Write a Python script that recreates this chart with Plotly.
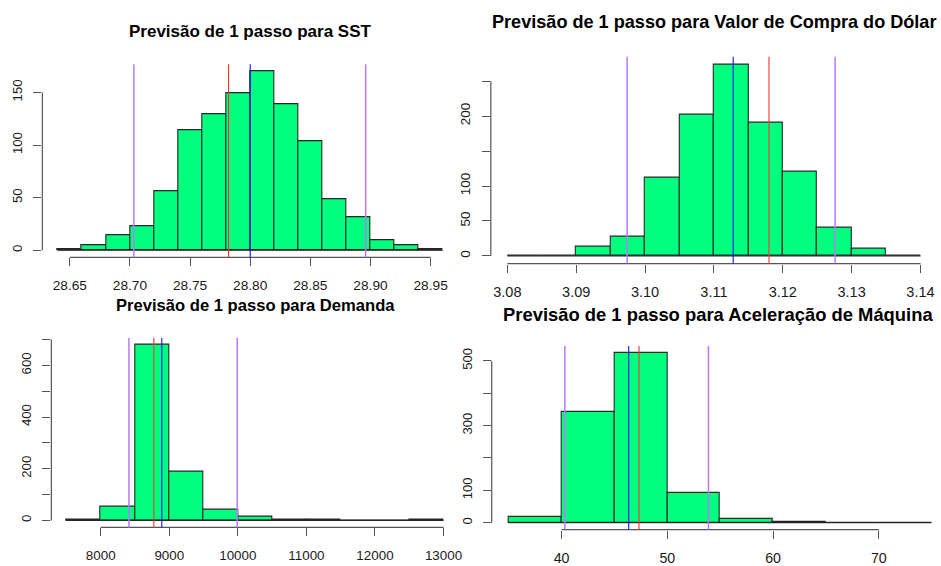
import plotly.graph_objects as go

W, H = 941, 566

# ---------------- data ----------------
titles = [
    "Previsão de 1 passo para SST",
    "Previsão de 1 passo para Valor de Compra do Dólar",
    "Previsão de 1 passo para Demanda",
    "Previsão de 1 passo para Aceleração de Máquina",
]

sst_edges = [28.64, 28.66, 28.68, 28.70, 28.72, 28.74, 28.76, 28.78, 28.80,
             28.82, 28.84, 28.86, 28.88, 28.90, 28.92, 28.94, 28.96]
sst_counts = [1, 5, 14, 23, 56, 114, 129, 149, 170, 139, 104, 49, 31, 10, 5, 1]
sst_lines = [28.7033, 28.782, 28.800, 28.896]          # lower, red, blue, upper

dolar_edges = [3.080, 3.085, 3.090, 3.095, 3.100, 3.105, 3.110, 3.115,
               3.120, 3.125, 3.130, 3.135, 3.140]
dolar_counts = [1, 0, 13, 27, 112, 202, 274, 190, 120, 41, 11, 1]
dolar_lines = [3.0974, 3.1180, 3.1128, 3.1276]        # lower, red, blue, upper

dem_edges = [7500, 8000, 8500, 9000, 9500, 10000, 10500, 11000,
             11500, 12000, 12500, 13000]
dem_counts = [2, 52, 680, 189, 41, 13, 3, 1, 0, 0, 1]
dem_lines = [8412, 8775, 8891, 9991]

acel_edges = [35, 40, 45, 50, 55, 60, 65, 70, 75]
acel_counts = [18, 342, 525, 91, 12, 2, 0, 1]
acel_lines = [40.31, 47.32, 46.35, 53.89]

sst_xticks = [28.65, 28.70, 28.75, 28.80, 28.85, 28.90, 28.95]
sst_xlabels = ["28.65", "28.70", "28.75", "28.80", "28.85", "28.90", "28.95"]
sst_yticks = [0, 50, 100, 150]
sst_ylabels = ["0", "50", "100", "150"]

dolar_xticks = [3.08, 3.09, 3.10, 3.11, 3.12, 3.13, 3.14]
dolar_xlabels = ["3.08", "3.09", "3.10", "3.11", "3.12", "3.13", "3.14"]
dolar_yticks = [0, 50, 100, 150, 200, 250]
dolar_ylabels = ["0", "50", "100", "", "200", ""]

dem_xticks = [8000, 9000, 10000, 11000, 12000, 13000]
dem_xlabels = ["8000", "9000", "10000", "11000", "12000", "13000"]
dem_yticks = [0, 100, 200, 300, 400, 500, 600, 700]
dem_ylabels = ["0", "", "200", "", "400", "", "600", ""]

acel_xticks = [40, 50, 60, 70]
acel_xlabels = ["40", "50", "60", "70"]
acel_yticks = [0, 100, 200, 300, 400, 500]
acel_ylabels = ["0", "100", "", "300", "", "500"]

# ---------------- styling / layout ----------------
FONT = "Liberation Sans, Arial, sans-serif"
FILL = "#00FF7F"
EDGE = "#262626"
AXC = "#555555"
TXT = "#1a1a1a"
PURPLE = "#BB77FF"
RED = "#FF3030"
BLUE = "#1010FF"

panels = [
    dict(edges=sst_edges, counts=sst_counts, lines=sst_lines,
         xt=sst_xticks, xl=sst_xlabels, yt=sst_yticks, yl=sst_ylabels,
         px=(42.5, 459.5, 64.9, 260.2), title_xy=(251, 32), tsize=17,
         xfs=13.7, yfs=13.2),
    dict(edges=dolar_edges, counts=dolar_counts, lines=dolar_lines,
         xt=dolar_xticks, xl=dolar_xlabels, yt=dolar_yticks, yl=dolar_ylabels,
         px=(492.4, 940.0, 57.3, 266.4), title_xy=(716, 22), tsize=18.1,
         xfs=14.5, yfs=13.5),
    dict(edges=dem_edges, counts=dem_counts, lines=dem_lines,
         xt=dem_xticks, xl=dem_xlabels, yt=dem_yticks, yl=dem_ylabels,
         px=(51.5, 460.1, 341.3, 533.1), title_xy=(256, 308.5), tsize=16.6,
         xfs=13.4, yfs=13.2),
    dict(edges=acel_edges, counts=acel_counts, lines=acel_lines,
         xt=acel_xticks, xl=acel_xlabels, yt=acel_yticks, yl=acel_ylabels,
         px=(493.3, 951.7, 349.6, 535.2), title_xy=(720.5, 317.5), tsize=18.4,
         xfs=14.2, yfs=13.0),
]
line_colors = [PURPLE, RED, BLUE, PURPLE]

fig = go.Figure()
shapes = []
annotations = []
layout = dict(
    width=W, height=H, margin=dict(l=0, r=0, t=0, b=0),
    paper_bgcolor="white", plot_bgcolor="white", showlegend=False,
    bargap=0, font=dict(family=FONT, color=TXT),
)

for i, p in enumerate(panels, start=1):
    e = p["edges"]
    c = p["counts"]
    span = e[-1] - e[0]
    xr = [e[0] - 0.04 * span, e[-1] + 0.04 * span]
    ymax = max(c)
    yr = [-0.04 * ymax, 1.04 * ymax]
    left, right, top, bottom = p["px"]
    if right > W:
        xr[1] = xr[0] + (W - left) / (right - left) * (xr[1] - xr[0])
        right = W
    xdom = [left / W, right / W]
    ydom = [1 - bottom / H, 1 - top / H]

    xa = "x" if i == 1 else f"x{i}"
    ya = "y" if i == 1 else f"y{i}"

    centers = [(e[k] + e[k + 1]) / 2 for k in range(len(c))]
    widths = [e[k + 1] - e[k] for k in range(len(c))]
    fig.add_trace(go.Bar(
        x=centers, y=c, width=widths, xaxis=xa, yaxis=ya,
        marker=dict(color=FILL, line=dict(color=EDGE, width=1.1)),
        hoverinfo="x+y",
    ))

    layout[f"xaxis{i}" if i > 1 else "xaxis"] = dict(
        domain=xdom, range=xr, anchor=ya, showgrid=False, zeroline=False,
        showline=False, ticks="outside", ticklen=8, tickwidth=1.1, tickcolor=AXC,
        tickvals=p["xt"], ticktext=p["xl"],
        tickfont=dict(family=FONT, size=p["xfs"], color=TXT),
        ticklabelstandoff=7, fixedrange=True,
    )
    layout[f"yaxis{i}" if i > 1 else "yaxis"] = dict(
        domain=ydom, range=yr, anchor=xa, showgrid=False, zeroline=False,
        showline=False, ticks="outside", ticklen=8, tickwidth=1.1, tickcolor=AXC,
        tickvals=p["yt"], ticktext=p["yl"], tickangle=-90,
        tickfont=dict(family=FONT, size=p["yfs"], color=TXT),
        ticklabelstandoff=6, fixedrange=True,
    )

    # baseline of zero-count bins (R draws every rect)
    shapes.append(dict(type="line", xref=xa, yref=ya, x0=e[0], x1=e[-1],
                       y0=0, y1=0, line=dict(color=EDGE, width=1.1)))
    # R-style axis lines spanning first to last tick
    shapes.append(dict(type="line", xref=xa, yref=f"{ya} domain",
                       x0=p["xt"][0], x1=p["xt"][-1], y0=0, y1=0,
                       line=dict(color=AXC, width=1.2)))
    shapes.append(dict(type="line", xref=f"{xa} domain", yref=ya,
                       x0=0, x1=0, y0=p["yt"][0], y1=p["yt"][-1],
                       line=dict(color=AXC, width=1.2)))
    # vertical reference lines
    for v, col in zip(p["lines"], line_colors):
        shapes.append(dict(type="line", xref=xa, yref=f"{ya} domain",
                           x0=v, x1=v, y0=0, y1=1,
                           line=dict(color=col, width=1.5 if col == PURPLE else 1.1)))

    tx, ty = p["title_xy"]
    annotations.append(dict(
        text=f"<b>{titles[i - 1]}</b>", xref="paper", yref="paper",
        x=tx / W, y=1 - ty / H, xanchor="center", yanchor="middle",
        showarrow=False, font=dict(family=FONT, size=p["tsize"], color="#000"),
    ))

layout["shapes"] = shapes
layout["annotations"] = annotations
fig.update_layout(**layout)
fig.write_html("out.html",
               config={"displayModeBar": False},
               post_script="document.body.style.margin='0px';"
                           "document.body.style.overflow='hidden';")
